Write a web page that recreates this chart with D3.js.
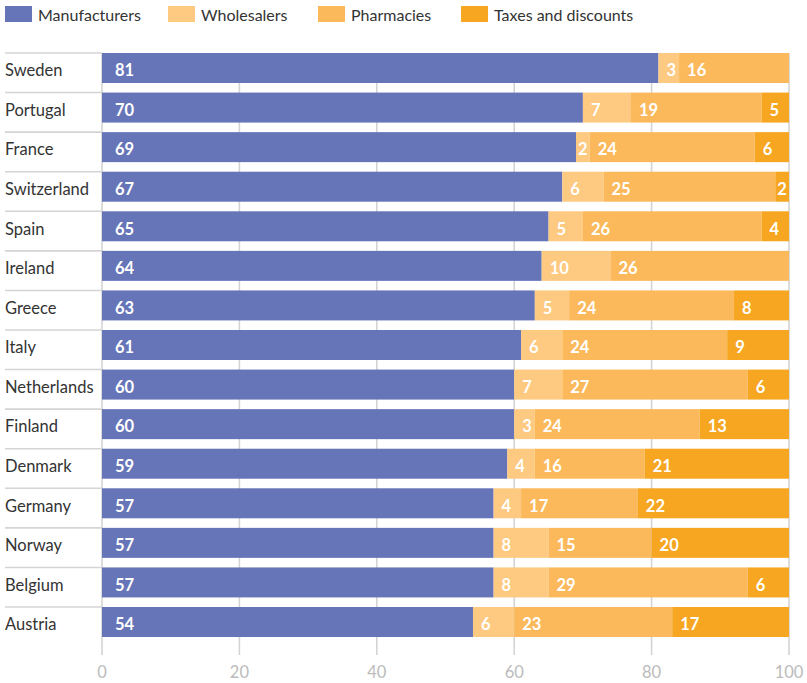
<!DOCTYPE html>
<html><head><meta charset="utf-8">
<script src="https://cdn.jsdelivr.net/npm/d3@7"></script>
<style>
body{margin:0;background:#fff;}
text{font-family:Lato,"Open Sans",sans-serif;}
</style></head>
<body><svg id="chart" width="807" height="683"></svg>
<script>
const countries = ["Sweden","Portugal","France","Switzerland","Spain","Ireland","Greece","Italy","Netherlands","Finland","Denmark","Germany","Norway","Belgium","Austria"];
const manufacturers = [81,70,69,67,65,64,63,61,60,60,59,57,57,57,54];
const wholesalers   = [3,7,2,6,5,10,5,6,7,3,4,4,8,8,6];
const pharmacies    = [16,19,24,25,26,26,24,24,27,24,16,17,15,29,23];
const taxes         = [0,5,6,2,4,0,8,9,6,13,21,22,20,6,17];
const seriesNames = ["Manufacturers","Wholesalers","Pharmacies","Taxes and discounts"];
const colors = ["#6674b8","#fec980","#fbb95b","#f6a620"];
const ticks = [0,20,40,60,80,100];

const svg = d3.select("#chart");
const x = d3.scaleLinear().domain([0,100]).range([102,789]).clamp(true);
const y = d3.scaleBand().domain(countries).range([53,637]).paddingInner(0.242).paddingOuter(0).align(0);

const seriesData = [manufacturers, wholesalers, pharmacies, taxes];
const rows = countries.map((c,i)=>{const o={country:c}; seriesNames.forEach((s,j)=>o[s]=seriesData[j][i]); return o;});
const stacked = d3.stack().keys(seriesNames)(rows);

// gridlines
svg.append("g").selectAll("line").data(ticks).join("line")
  .attr("x1",d=>x(d)).attr("x2",d=>x(d)).attr("y1",53).attr("y2",655)
  .attr("stroke","#d4d4d4").attr("stroke-width",1.6);

// row separators
svg.append("g").selectAll("line").data(countries).join("line")
  .attr("x1",5).attr("x2",102).attr("y1",d=>y(d)).attr("y2",d=>y(d))
  .attr("stroke","#d4d4d4").attr("stroke-width",1.6);

// country labels
svg.append("g").selectAll("text").data(countries).join("text")
  .attr("x",5).attr("y",d=>y(d)+y.bandwidth()/2).attr("dy","0.5em")
  .attr("font-size",16.5).attr("fill","#333").text(d=>d);

// bars
const barsG = svg.append("g"), labelsG = svg.append("g");
stacked.forEach((s,j)=>{
  const segs = s.filter(d=>d[1]-d[0]>0);
  barsG.append("g").selectAll("rect").data(segs).join("rect")
    .attr("x",d=>x(d[0])).attr("width",d=>x(d[1])-x(d[0]))
    .attr("y",d=>y(d.data.country)).attr("height",y.bandwidth())
    .attr("fill",colors[j]);
  labelsG.append("g").selectAll("text").data(segs).join("text")
    .attr("x",d=>{const w=x(d[1])-x(d[0]); return x(d[0])+(j===0?13:(w<16?2:8));})
    .attr("y",d=>y(d.data.country)+y.bandwidth()/2).attr("dy","0.5em")
    .attr("font-size",16.5).attr("font-weight","bold").attr("fill","#fff")
    .text(d=>d.data[seriesNames[j]]);
});

// x tick labels
svg.append("g").selectAll("text").data(ticks).join("text")
  .attr("x",d=>x(d)).attr("y",672).attr("dy","0.38em").attr("text-anchor","middle")
  .attr("font-size",16.5).attr("fill","#bbbbbb").text(d=>d);

// legend
const legX = [5,168,318,461];
const leg = svg.append("g").selectAll("g").data(seriesNames).join("g")
  .attr("transform",(d,i)=>`translate(${legX[i]},6)`);
leg.append("rect").attr("width",27).attr("height",16).attr("fill",(d,i)=>colors[i]);
leg.append("text").attr("x",33).attr("y",8).attr("dy","0.44em")
  .attr("font-size",16).attr("fill","#333").text(d=>d);
</script></body></html>
